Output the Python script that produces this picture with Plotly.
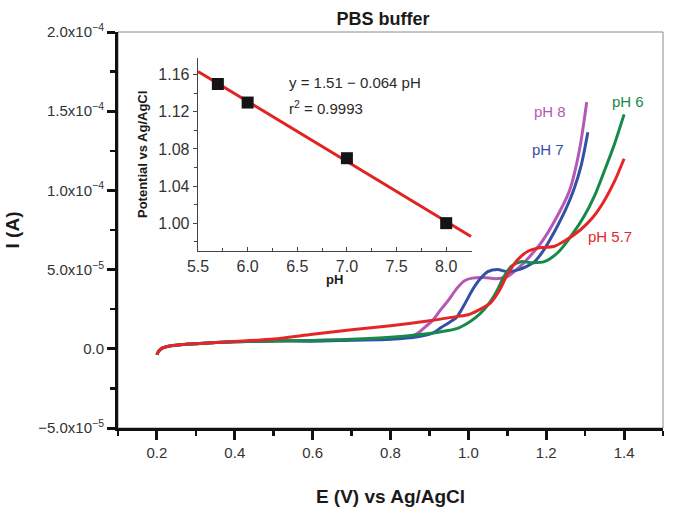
import numpy as np
import plotly.graph_objects as go

# ---------------- data ----------------
# Main voltammograms: potential E (V vs Ag/AgCl) and current I (in µA, converted to A)
E_ph8 = [0.2, 0.205, 0.215, 0.23, 0.26, 0.3, 0.4, 0.5, 0.6, 0.7, 0.8, 0.85, 0.87, 0.89, 0.91,
         0.93, 0.95, 0.97, 0.99, 1.01, 1.04, 1.07, 1.1, 1.13, 1.16, 1.19, 1.22, 1.26, 1.285, 1.304]
I_ph8 = [-3.8, -1.3, 0.6, 1.6, 2.5, 3.2, 4.4, 5.0, 5.3, 5.7, 6.4, 7.6, 9.8, 14.0, 18.4,
         25.0, 31.0, 38.0, 43.0, 44.6, 45.0, 44.3, 45.6, 51.3, 58.9, 68.0, 80.0, 100.0, 125.0, 155.7]

E_ph7 = [0.2, 0.205, 0.215, 0.23, 0.26, 0.3, 0.4, 0.5, 0.6, 0.7, 0.8, 0.87, 0.91, 0.93, 0.95,
         0.97, 0.99, 1.01, 1.03, 1.05, 1.075, 1.1, 1.13, 1.15, 1.17, 1.19, 1.21, 1.23, 1.25,
         1.271, 1.29, 1.307]
I_ph7 = [-3.8, -1.3, 0.6, 1.6, 2.5, 3.2, 4.4, 5.0, 4.8, 5.4, 6.0, 7.6, 10.1, 13.5, 16.5,
         20.0, 28.0, 37.0, 44.0, 48.7, 50.0, 48.7, 50.0, 52.0, 55.0, 61.0, 69.0, 78.0, 88.0,
         100.6, 116.0, 136.7]

E_ph6 = [0.2, 0.205, 0.215, 0.23, 0.26, 0.3, 0.4, 0.5, 0.6, 0.7, 0.8, 0.87, 0.93, 0.97, 1.0,
         1.02, 1.04, 1.06, 1.075, 1.09, 1.11, 1.135, 1.16, 1.195, 1.23, 1.263, 1.297, 1.325,
         1.348, 1.375, 1.4]
I_ph6 = [-3.8, -1.3, 0.6, 1.6, 2.5, 3.2, 4.4, 5.0, 5.2, 6.0, 7.3, 8.9, 10.8, 12.7, 16.5,
         20.0, 24.7, 31.0, 37.3, 45.0, 52.0, 55.0, 54.4, 55.0, 60.8, 70.9, 83.5, 97.0,
         111.4, 129.0, 148.0]

E_ph57 = [0.2, 0.205, 0.215, 0.23, 0.26, 0.3, 0.4, 0.5, 0.6, 0.7, 0.8, 0.9, 0.97, 1.0, 1.013,
          1.057, 1.08, 1.1, 1.127, 1.152, 1.186, 1.219, 1.245, 1.289, 1.32, 1.348, 1.375, 1.4]
I_ph57 = [-3.8, -1.3, 0.6, 1.6, 2.5, 3.2, 4.6, 6.2, 9.2, 12.0, 14.6, 17.7, 20.3, 21.5, 22.8,
          29.0, 37.0, 46.8, 56.3, 61.4, 63.9, 64.6, 67.7, 75.3, 83.0, 93.0, 105.5, 120.0]

series_names = ["pH 8", "pH 7", "pH 6", "pH 5.7"]
series_colors = ["#b757b5", "#3450a4", "#168a48", "#e52628"]

# Inset: peak potential vs pH
inset_ph = [5.7, 6.0, 7.0, 8.0]
inset_pot = [1.15, 1.13, 1.07, 1.00]
fit_range = [5.5, 8.25]

# Tick labels
main_ytickvals = [-5e-5, 0.0, 5e-5, 1e-4, 1.5e-4, 2e-4]
main_yticktext = ["\u22125.0x10<sup>\u22125</sup>", "0.0", "5.0x10<sup>\u22125</sup>",
                  "1.0x10<sup>\u22124</sup>", "1.5x10<sup>\u22124</sup>", "2.0x10<sup>\u22124</sup>"]
main_xtickvals = [0.2, 0.4, 0.6, 0.8, 1.0, 1.2, 1.4]
main_xticktext = ["0.2", "0.4", "0.6", "0.8", "1.0", "1.2", "1.4"]
inset_xtickvals = [5.5, 6.0, 6.5, 7.0, 7.5, 8.0]
inset_xticktext = ["5.5", "6.0", "6.5", "7.0", "7.5", "8.0"]
inset_ytickvals = [1.00, 1.04, 1.08, 1.12, 1.16]
inset_yticktext = ["1.00", "1.04", "1.08", "1.12", "1.16"]

FONT = "Liberation Sans, Arial, sans-serif"

# ---------------- figure ----------------
fig = go.Figure()

E_all = [E_ph8, E_ph7, E_ph6, E_ph57]
I_all = [I_ph8, I_ph7, I_ph6, I_ph57]
for name, col, E, I in zip(series_names, series_colors, E_all, I_all):
    fig.add_trace(go.Scatter(
        x=E, y=np.array(I) * 1e-6, mode="lines", name=name,
        line=dict(color=col, width=3, shape="spline", smoothing=0.8),
        xaxis="x", yaxis="y", showlegend=False))

# inset fit line
slope, intercept = np.polyfit(inset_ph, inset_pot, 1)
fit_x = np.array(fit_range)
fig.add_trace(go.Scatter(
    x=fit_x, y=intercept + slope * fit_x, mode="lines",
    line=dict(color="#e02424", width=3), xaxis="x2", yaxis="y2", showlegend=False))
fig.add_trace(go.Scatter(
    x=inset_ph, y=inset_pot, mode="markers",
    marker=dict(symbol="square", size=12, color="#141414"),
    xaxis="x2", yaxis="y2", showlegend=False))

# frame (thin grey top/right)
fig.add_shape(type="rect", xref="x domain", yref="y domain", x0=0, x1=1, y0=0, y1=1,
              line=dict(color="#8a8a8a", width=1), layer="below")

fig.update_layout(
    width=676, height=518,
    margin=dict(l=118, r=13, t=32, b=90, autoexpand=False),
    paper_bgcolor="white", plot_bgcolor="white",
    font=dict(family=FONT, color="#2a2a2a", size=15),
    title=dict(text="<b>PBS buffer</b>", x=383 / 676, xanchor="center",
               y=1 - 19 / 518, yanchor="middle", font=dict(size=18, color="#1a1a1a")),
    xaxis=dict(
        domain=[0, 1], range=[0.1, 1.5], tickmode="array", automargin=False,
        tickvals=main_xtickvals, ticktext=main_xticktext,
        ticks="outside", ticklen=9, tickwidth=3, tickcolor="#111",
        showline=True, linecolor="#111", linewidth=3, showgrid=False, zeroline=False,
        tickfont=dict(size=15, color="#333"),
        minor=dict(tickvals=[0.1, 0.3, 0.5, 0.7, 0.9, 1.1, 1.3, 1.5], ticks="outside",
                   ticklen=5, tickwidth=2.5, tickcolor="#111"),
        title=dict(text="<b>E (V) vs Ag/AgCl</b>", font=dict(size=19, color="#1a1a1a"),
                   standoff=30),
    ),
    yaxis=dict(
        domain=[0, 1], range=[-5e-5, 2e-4], tickmode="array", automargin=False,
        tickvals=main_ytickvals, ticktext=main_yticktext,
        ticks="outside", ticklen=8, tickwidth=3, tickcolor="#111",
        showline=True, linecolor="#111", linewidth=3, showgrid=False, zeroline=False,
        tickfont=dict(size=15, color="#333"),
        minor=dict(tickvals=[-2.5e-5, 2.5e-5, 7.5e-5, 1.25e-4, 1.75e-4], ticks="outside",
                   ticklen=5, tickwidth=2.5, tickcolor="#111"),
        title=dict(text="<b>I (A)</b>", font=dict(size=19, color="#1a1a1a"), standoff=14),
    ),
    xaxis2=dict(
        domain=[(198 - 118) / 545, (472 - 118) / 545], anchor="y2", automargin=False,
        range=[5.5, 8.26], tickmode="array", tickvals=inset_xtickvals,
        ticktext=inset_xticktext,
        ticks="inside", ticklen=4, tickwidth=1, tickcolor="#444",
        showline=True, linecolor="#444", linewidth=1.3, showgrid=False, zeroline=False,
        tickfont=dict(size=16, color="#333"),
        minor=dict(tickvals=[5.75, 6.25, 6.75, 7.25, 7.75, 8.25], ticks="inside",
                   ticklen=3, tickwidth=1, tickcolor="#444"),
    ),
    yaxis2=dict(
        domain=[(428 - 251) / 396, (428 - 58) / 396], anchor="x2", automargin=False,
        range=[0.97, 1.178], tickmode="array", tickvals=inset_ytickvals,
        ticktext=inset_yticktext,
        ticks="outside", ticklen=4, tickwidth=1, tickcolor="#444",
        showline=True, linecolor="#444", linewidth=1.3, showgrid=False, zeroline=False,
        tickfont=dict(size=16, color="#333"),
        minor=dict(tickvals=[0.98, 1.02, 1.06, 1.10, 1.14], ticks="outside",
                   ticklen=3, tickwidth=1, tickcolor="#444"),
    ),
)

# inset axis titles (placed in paper coordinates of the inset)
fig.add_annotation(x=(334 - 118) / 545, y=(428 - 279) / 396, xref="paper", yref="paper",
                   text="<b>pH</b>", showarrow=False, xanchor="center", yanchor="middle",
                   font=dict(size=13, color="#1a1a1a"))
fig.add_annotation(x=(143 - 118) / 545, y=(428 - 155) / 396, xref="paper", yref="paper",
                   text="<b>Potential vs Ag/AgCl</b>", showarrow=False, textangle=-90,
                   xanchor="center", yanchor="middle", font=dict(size=13, color="#1a1a1a"))

# inset equation text
fig.add_annotation(x=6.40, y=1.152, xref="x2", yref="y2", xanchor="left", yanchor="middle",
                   text="y = 1.51 \u2212 0.064 pH", showarrow=False,
                   font=dict(size=15, color="#2a2a2a"))
fig.add_annotation(x=6.40, y=1.125, xref="x2", yref="y2", xanchor="left", yanchor="middle",
                   text="r<sup>2</sup> = 0.9993", showarrow=False,
                   font=dict(size=15, color="#2a2a2a"))

# curve labels
label_pos = [(1.209, 1.50e-4), (1.204, 1.26e-4), (1.41, 1.563e-4), (1.363, 7.09e-5)]
for name, col, (lx, ly) in zip(series_names, series_colors, label_pos):
    fig.add_annotation(x=lx, y=ly, xref="x", yref="y", text=name, showarrow=False,
                       xanchor="center", yanchor="middle", font=dict(size=15, color=col))

fig.write_html(
    "out.html",
    config={"displayModeBar": False, "staticPlot": True},
    post_script="document.body.style.margin='0';document.body.style.padding='0';"
                "document.documentElement.style.overflow='hidden';",
)
